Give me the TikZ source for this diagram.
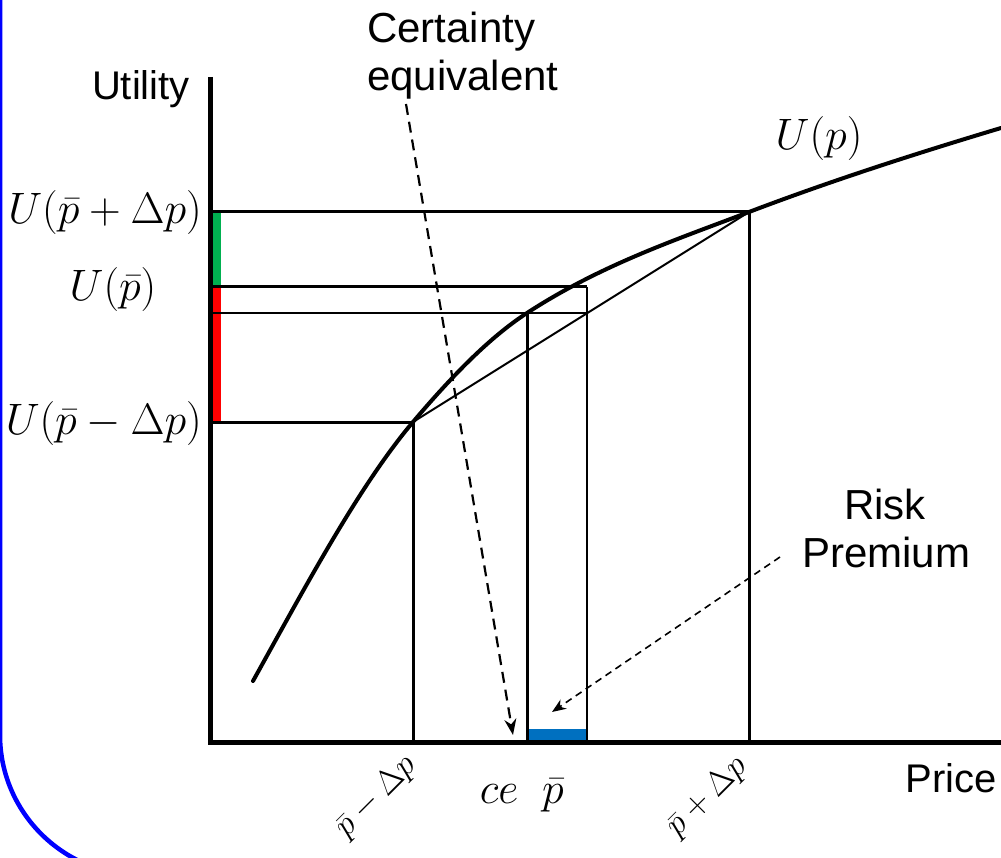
\RequirePackage{fix-cm}
\documentclass[tikz,border=0pt]{standalone}
\usepackage[no-math]{fontspec}
\setmainfont{Liberation Sans}
\usetikzlibrary{arrows.meta}
\definecolor{bordblue}{RGB}{0,0,255}
\definecolor{gainbar}{RGB}{0,176,80}
\definecolor{lossbar}{RGB}{255,0,0}
\definecolor{rpbar}{RGB}{0,112,192}
\begin{document}
\begin{tikzpicture}[x=1pt,y=-1pt,
  txt/.style={font=\fontsize{40}{47}\selectfont, inner sep=0pt},
  calltxt/.style={font=\fontsize{42}{48}\selectfont, inner sep=0pt},
  mth/.style={font=\fontsize{44}{50}\selectfont, inner sep=0pt},
  rmth/.style={font=\fontsize{34}{40}\selectfont, inner sep=0pt, rotate=45},
  axisline/.style={line width=5pt, line join=miter},
  ucurve/.style={line width=4pt, line cap=round},
  guide/.style={line width=3pt},
  guidethin/.style={line width=1.8pt},
  chordline/.style={line width=2pt},
  ceArrow/.style={line width=2.2pt, dash pattern=on 11pt off 7pt, -{Stealth[length=16pt,width=12pt]}},
  rpArrow/.style={line width=1.6pt, dash pattern=on 7pt off 5pt, -{Stealth[length=14pt,width=11pt]}}
]
\useasboundingbox (0,0) rectangle (1001,858);
% frame border
\draw[bordblue, line width=4.5pt] (0,-10) -- (0,735) .. controls (0,812) and (63,875) .. (140,875);
% key points
\coordinate (O) at (210,742);
\coordinate (Ytop) at (210,77);
\coordinate (Xend) at (1001,742);
\coordinate (A) at (253,681);
\coordinate (L) at (413,422);
\coordinate (C) at (527,313);
\coordinate (H) at (749,212);
\coordinate (F) at (1001,128);
\coordinate (M) at (587,287);
\coordinate (Q) at (587,313);
\coordinate (yH) at (210,212);
\coordinate (yM) at (210,287);
\coordinate (yQ) at (210,313);
\coordinate (yL) at (210,422);
% coloured bars
\fill[gainbar] (212,213) rectangle (221,287);
\fill[lossbar] (212,287) rectangle (221,423);
\fill[rpbar] (527,729) rectangle (587,740);
% guide lines
\draw[guide] (yH) -- (H) -- (H|-O);
\draw[guide] (yM) -- (M);
\draw[guidethin] (M) -- (M|-O);
\draw[guide, line width=2.4pt] (yQ) -- (Q);
\draw[guide] (C) -- (C|-O);
\draw[guide] (yL) -- (L) -- (L|-O);
\draw[chordline] (L) -- (H);
% utility curve
\draw[ucurve] (A) .. controls (306.3,585) and (359.7,484.9) .. (L)
  .. controls (451,377.2) and (489,337.7) .. (C)
  .. controls (601,264.9) and (675,240.1) .. (H)
  .. controls (833,180.1) and (917,153.2) .. (F);
% axes
\draw[axisline] (Ytop) -- (O) -- (Xend);
% labels
\node[txt, anchor=base east] (ylab) at (190,100) {Utility};
\node[txt, anchor=base east] (xlab) at (997,792) {Price};
\node[mth] (Up) at (819,139) {$U(p)$};
\node[mth, anchor=east] (UH) at (202,213) {$U(\bar{p}+\Delta p)$};
\node[mth] (UM) at (113,290) {$U(\bar{p})$};
\node[mth, anchor=east] (UL) at (202,424) {$U(\bar{p}-\Delta p)$};
\node[rmth] (pl) at (376,797) {$\bar{p}-\Delta p$};
\node[rmth] (ph) at (707,797) {$\bar{p}+\Delta p$};
\node[mth, anchor=base] (ce) at (499,803) {$ce$};
\node[mth, anchor=base] (pb) at (553,803) {$\bar{p}$};
\node[calltxt, anchor=base west] (cert1) at (367,43) {Certainty};
\node[calltxt, anchor=base west] (cert2) at (367,91) {equivalent};
\node[calltxt, anchor=base] (risk1) at (885,519) {Risk};
\node[calltxt, anchor=base] (risk2) at (886,567) {Premium};
% callouts
\coordinate (ceTail) at (406,104);
\coordinate (ceTip) at (513,735);
\coordinate (rpTail) at (780,557);
\coordinate (rpTip) at (552,712);
\draw[ceArrow] (ceTail) -- (ceTip);
\draw[rpArrow] (rpTail) -- (rpTip);
\end{tikzpicture}
\end{document}
